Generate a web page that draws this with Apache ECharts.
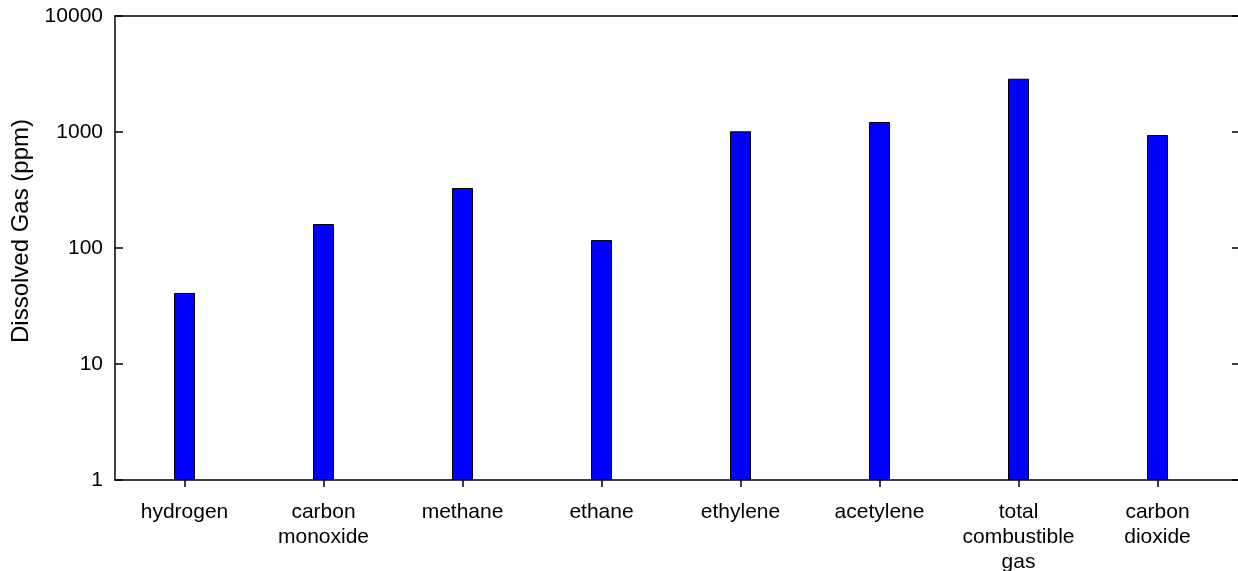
<!DOCTYPE html>
<html>
<head>
<meta charset="utf-8">
<script src="https://cdn.jsdelivr.net/npm/echarts@6/dist/echarts.min.js"></script>
<style>
  html, body { margin: 0; padding: 0; background: #fff; }
  #chart { width: 1238px; height: 571px; }
</style>
</head>
<body>
<div id="chart"></div>
<script>
// gas names (axis labels, line breaks as in the figure)
const categories = [
  "hydrogen",
  "carbon\nmonoxide",
  "methane",
  "ethane",
  "ethylene",
  "acetylene",
  "total\ncombustible\ngas",
  "carbon\ndioxide"
];
// dissolved gas, ppm
const gasValues = [41, 161, 329, 117, 1014, 1220, 2880, 942];
const yMin = 1;
const yMax = 10000;

const font = "Liberation Sans, Arial, sans-serif";
const chart = echarts.init(document.getElementById("chart"));

chart.setOption({
  animation: false,
  grid: [
    // bars + category axis
    { left: 115, top: 16, right: 11, bottom: 91, outerBoundsMode: "none" },
    // frame: top/bottom lines and right ticks
    { left: 115, top: 16, right: 0, bottom: 91, outerBoundsMode: "none" }
  ],
  xAxis: [
    {
      type: "category",
      gridIndex: 0,
      data: categories,
      axisLine: { show: false },
      axisTick: { show: true, alignWithLabel: true, length: 7, lineStyle: { color: "#000", width: 1.5 } },
      axisLabel: { color: "#000", fontSize: 21, fontFamily: font, margin: 20, lineHeight: 25, interval: 0 }
    },
    {
      type: "value",
      gridIndex: 1,
      position: "bottom",
      min: 0, max: 1,
      axisLine: { show: true, onZero: false, lineStyle: { color: "#000", width: 1.5 } },
      axisTick: { show: false },
      axisLabel: { show: false },
      splitLine: { show: false }
    },
    {
      type: "value",
      gridIndex: 1,
      position: "top",
      min: 0, max: 1,
      axisLine: { show: true, onZero: false, lineStyle: { color: "#000", width: 1.5 } },
      axisTick: { show: false },
      axisLabel: { show: false },
      splitLine: { show: false }
    }
  ],
  yAxis: [
    {
      type: "log",
      gridIndex: 0,
      logBase: 10,
      min: yMin,
      max: yMax,
      name: "Dissolved Gas (ppm)",
      nameLocation: "middle",
      nameGap: 69,
      nameTextStyle: { color: "#000", fontSize: 24, fontFamily: font, padding: [0, 0, 0, 34] },
      axisLine: { show: true, lineStyle: { color: "#000", width: 1.5 } },
      axisTick: { show: true, inside: true, length: 8, lineStyle: { color: "#000", width: 1.5 } },
      axisLabel: { color: "#000", fontSize: 21, fontFamily: font, margin: 12, formatter: (v) => String(v) },
      splitLine: { show: false }
    },
    {
      type: "log",
      gridIndex: 1,
      logBase: 10,
      min: yMin,
      max: yMax,
      position: "right",
      axisLine: { show: false, onZero: false },
      axisTick: { show: true, inside: true, length: 6, lineStyle: { color: "#000", width: 1.5 } },
      axisLabel: { show: false },
      splitLine: { show: false }
    }
  ],
  series: [
    {
      type: "bar",
      xAxisIndex: 0,
      yAxisIndex: 0,
      data: gasValues,
      barWidth: 21,
      itemStyle: { color: "#0000ff", borderColor: "#000", borderWidth: 1 }
    }
  ]
});
</script>
</body>
</html>
